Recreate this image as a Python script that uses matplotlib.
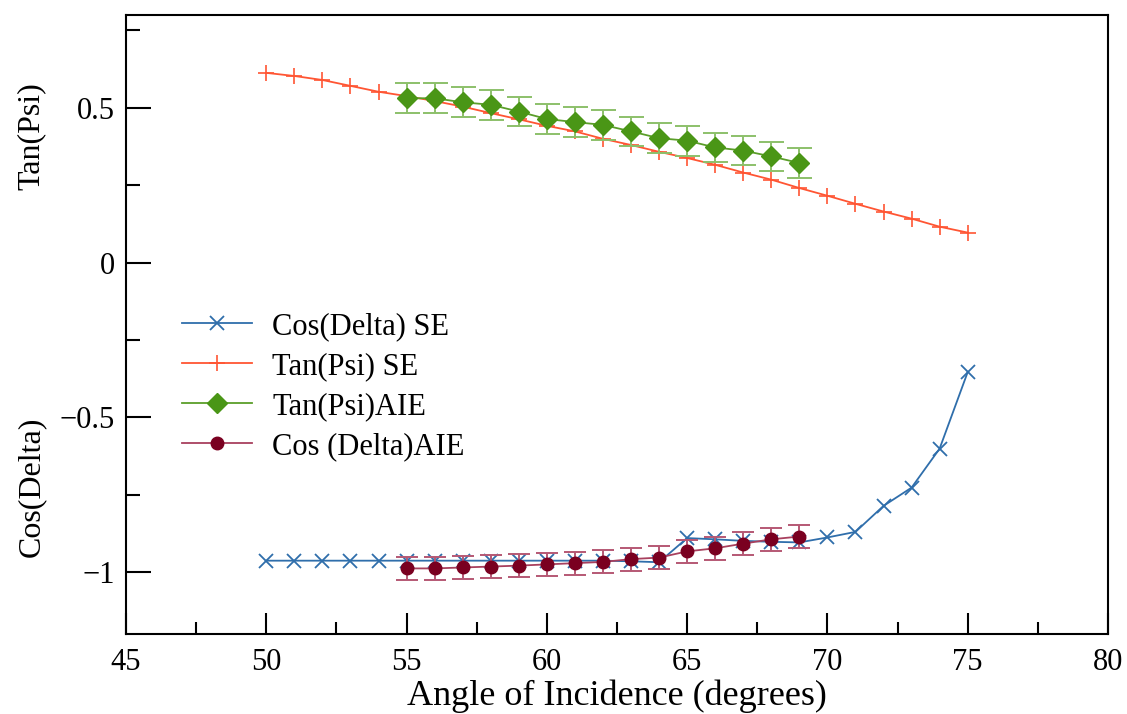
import numpy as np
import matplotlib
matplotlib.use("Agg")
import matplotlib.pyplot as plt
from matplotlib.ticker import MultipleLocator, FuncFormatter

plt.rcParams["font.family"] = ["Liberation Serif", "DejaVu Serif"]

# data
angle_se = list(range(50, 76))
cos_delta_se = [-0.963, -0.963, -0.963, -0.963, -0.963, -0.963, -0.963, -0.963,
                -0.963, -0.963, -0.963, -0.963, -0.963, -0.965, -0.968,
                -0.890, -0.894, -0.899, -0.902, -0.904, -0.888, -0.870,
                -0.786, -0.727, -0.601, -0.354]
tan_psi_se = [0.613, 0.603, 0.590, 0.571, 0.552, 0.538, 0.522, 0.504, 0.483,
              0.463, 0.442, 0.424, 0.400, 0.380, 0.358, 0.338, 0.316, 0.291,
              0.268, 0.241, 0.216, 0.190, 0.165, 0.142, 0.116, 0.097]

angle_aie = list(range(55, 70))
tan_psi_aie = [0.531, 0.531, 0.518, 0.510, 0.488, 0.464, 0.454, 0.445, 0.424,
               0.402, 0.394, 0.372, 0.362, 0.343, 0.322]
tan_psi_aie_err = [0.048] * 15
cos_delta_aie = [-0.988, -0.988, -0.985, -0.982, -0.979, -0.975, -0.971, -0.967,
                 -0.958, -0.953, -0.933, -0.923, -0.908, -0.894, -0.885]
cos_delta_aie_err = [0.037] * 15

fig = plt.figure(figsize=(11.27, 7.14), dpi=100)
ax = fig.add_axes([0.1118, 0.112, 0.8713, 0.867])

l1, = ax.plot(angle_se, cos_delta_se, color="#2f6eab", marker="x",
              markersize=10, markeredgewidth=1.3, linewidth=1.3,
              label="Cos(Delta) SE")
l2, = ax.plot(angle_se, tan_psi_se, color="#ff5533", marker="+",
              markersize=11, markeredgewidth=1.2, linewidth=1.3,
              label="Tan(Psi) SE")
eb1 = ax.errorbar(angle_aie, tan_psi_aie, yerr=tan_psi_aie_err, color="#5b9e2a",
                  marker="D", markersize=10, markerfacecolor="#4a9616",
                  markeredgecolor="#4a9616", linewidth=1.3, ecolor="#8cc06a",
                  elinewidth=1.4, capsize=9, capthick=1.4, label="Tan(Psi)AIE")
eb2 = ax.errorbar(angle_aie, cos_delta_aie, yerr=cos_delta_aie_err,
                  color="#a8405e", marker="o", markersize=9,
                  markerfacecolor="#7a0020", markeredgecolor="#7a0020",
                  linewidth=1.3, ecolor="#b55874", elinewidth=1.4, capsize=8,
                  capthick=1.4, label="Cos (Delta)AIE")

ax.set_xlim(45, 80)
ax.set_ylim(-1.2, 0.8)
ax.xaxis.set_major_locator(MultipleLocator(5))
ax.xaxis.set_minor_locator(MultipleLocator(2.5))
ax.yaxis.set_major_locator(MultipleLocator(0.5))
ax.yaxis.set_minor_locator(MultipleLocator(0.25))


def yfmt(v, pos):
    if abs(v) < 1e-9:
        return "0"
    return ("%g" % v).replace("-", "\u2212")


ax.yaxis.set_major_formatter(FuncFormatter(yfmt))
ax.tick_params(which="both", direction="in", top=False, right=False,
               labelsize=22, width=1.5)
ax.tick_params(axis="y", which="major", length=18, pad=8)
ax.tick_params(axis="y", which="minor", length=10)
ax.tick_params(axis="x", which="major", length=15, pad=10)
ax.tick_params(axis="x", which="minor", length=9)
for sp in ax.spines.values():
    sp.set_linewidth(1.5)

ax.set_xlabel("Angle of Incidence (degrees)", fontsize=26, labelpad=2)
fig.text(0.028, 0.81, "Tan(Psi)", rotation=90, fontsize=23,
         ha="center", va="center")
fig.text(0.028, 0.318, "Cos(Delta)", rotation=90, fontsize=23,
         ha="center", va="center")

ax.legend(handles=[l1, l2, eb1.lines[0], eb2.lines[0]],
          labels=["Cos(Delta) SE", "Tan(Psi) SE", "Tan(Psi)AIE", "Cos (Delta)AIE"],
          loc="upper left", bbox_to_anchor=(0.057, 0.52), frameon=False,
          fontsize=22, handlelength=2.3, handletextpad=0.65,
          labelspacing=0.36, borderpad=0, borderaxespad=0)

fig.savefig("out.png", dpi=100)
